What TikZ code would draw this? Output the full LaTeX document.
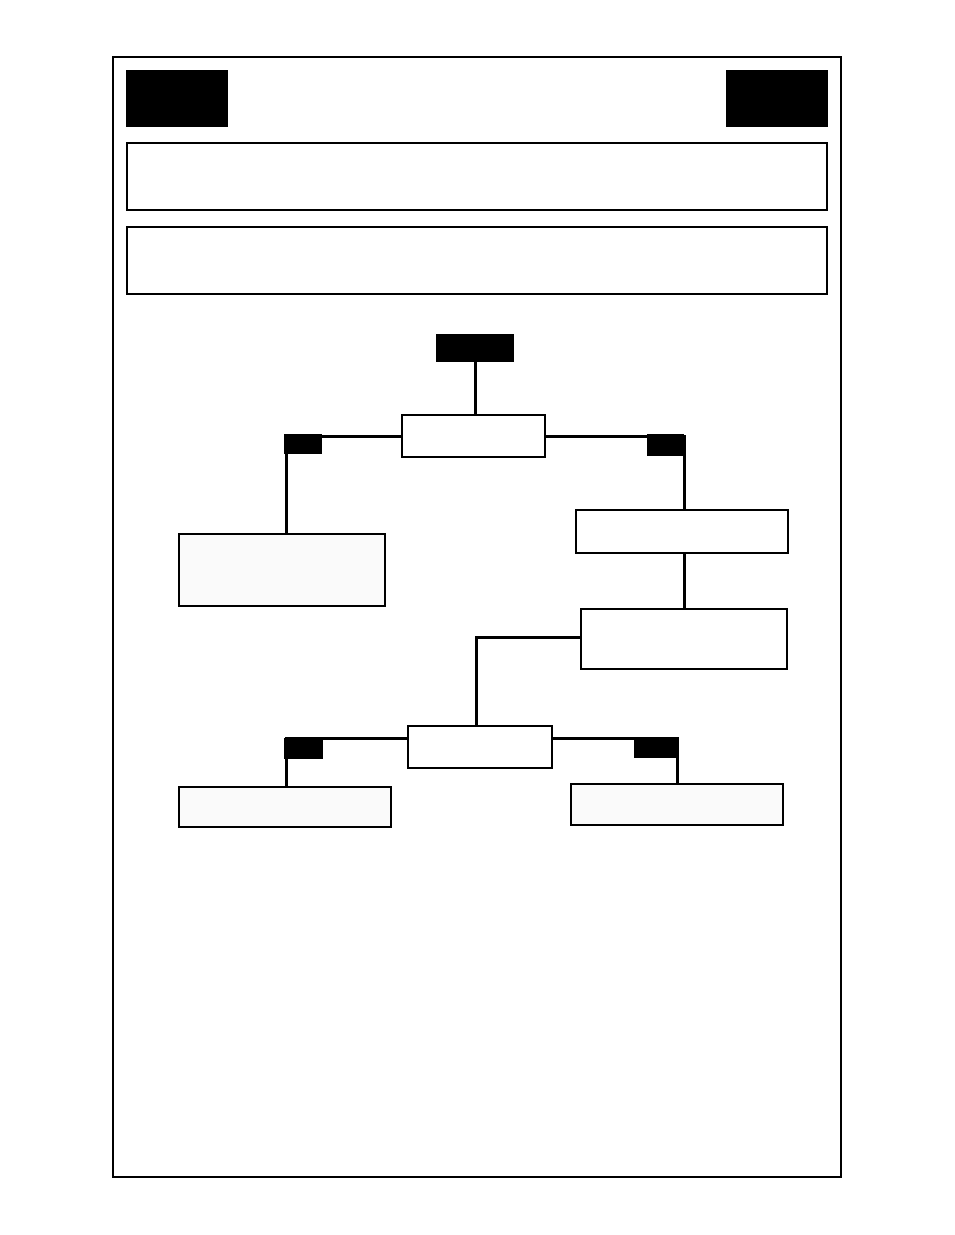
\documentclass[tikz,border=0pt]{standalone}
\usepackage{tikz}
\tikzset{
  blk/.style={fill=black,draw=none,inner sep=0pt},
  box/.style={draw,line width=1.3pt,fill=white,inner sep=0pt},
  leafbox/.style={draw,line width=1.3pt,fill=black!2,inner sep=0pt},
  hdrbox/.style={draw,line width=2.2pt,inner sep=0pt,minimum width=700pt,minimum height=67pt},
  link/.style={line width=3pt}
}
\begin{document}
\begin{tikzpicture}[x=1pt,y=-1pt]
  \useasboundingbox (0,0) rectangle (954,1235);
  \draw[line width=2pt] (113,57) rectangle (841,1177);
  % header
  \node[blk,minimum width=102pt,minimum height=57pt] (tagL) at (177,98.5) {};
  \node[blk,minimum width=102pt,minimum height=57pt] (tagR) at (777,98.5) {};
  \node[hdrbox] (title) at (477,176.5) {};
  \node[hdrbox] (note) at (477,260.5) {};
  % tree
  \node[blk,minimum width=78pt,minimum height=28pt] (root) at (475,348) {};
  \node[box,minimum width=143pt,minimum height=42pt] (q1) at (473.5,436) {};
  \node[leafbox,minimum width=206pt,minimum height=72pt] (leaf1) at (282,570) {};
  \node[box,minimum width=212pt,minimum height=43pt] (s1) at (682,531.5) {};
  \node[box,minimum width=206pt,minimum height=60pt] (s2) at (684,639) {};
  \node[box,minimum width=144pt,minimum height=42pt] (q2) at (480,747) {};
  \node[leafbox,minimum width=212pt,minimum height=40pt] (leaf2) at (285,807) {};
  \node[leafbox,minimum width=212pt,minimum height=41pt] (leaf3) at (677,804.5) {};
  % connectors
  \draw[link] (root.south) -- (root.south |- q1.north);
  \draw[link] (q1.west) -| (leaf1.north -| 286,0);
  \draw[link] (q1.east) -| (s1.north -| 684,0);
  \draw[link] (s1.south -| 684,0) -- (s2.north -| 684,0);
  \draw[link] (s2.west |- 0,637) -| (q2.north -| 476,0);
  \draw[link] (q2.west |- 0,738) -| (leaf2.north -| 286,0);
  \draw[link] (q2.east |- 0,738) -| (leaf3.north -| 677,0);
  % yes / no tags
  \node[blk,minimum width=38pt,minimum height=20pt] (y1) at (303,444) {};
  \node[blk,minimum width=37pt,minimum height=22pt] (n1) at (665.5,445) {};
  \node[blk,minimum width=39pt,minimum height=21pt] (y2) at (303.5,748.5) {};
  \node[blk,minimum width=44pt,minimum height=20pt] (n2) at (656,748) {};
\end{tikzpicture}
\end{document}
